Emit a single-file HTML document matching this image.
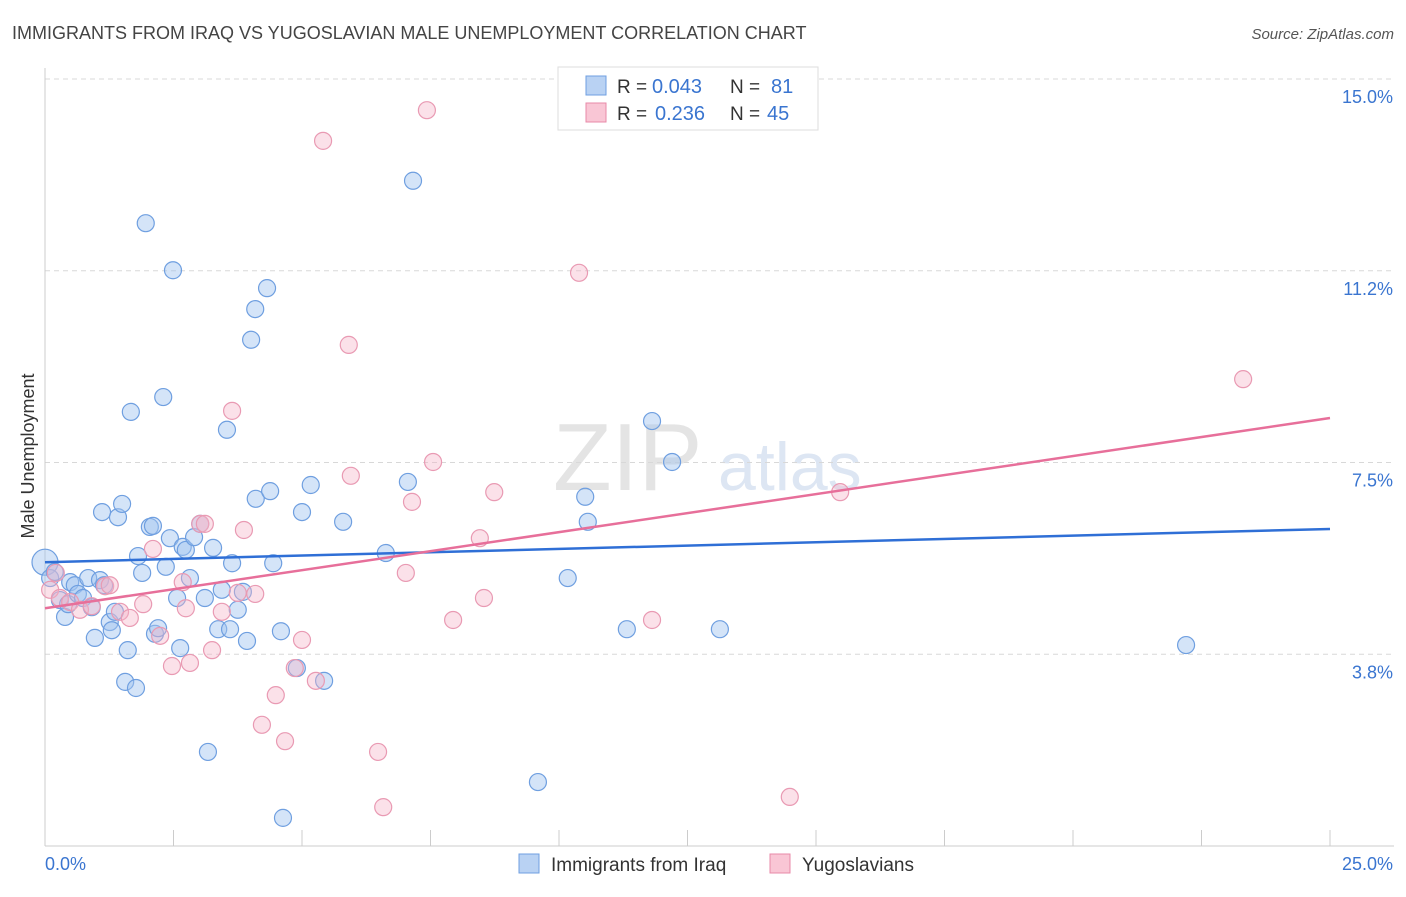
<!DOCTYPE html>
<html><head><meta charset="utf-8"><style>
body{margin:0;background:#fff;font-family:"Liberation Sans",sans-serif;}
svg text{font-family:"Liberation Sans",sans-serif;}
</style></head><body>
<svg width="1406" height="892" xmlns="http://www.w3.org/2000/svg">
<text x="12" y="39" font-size="18" fill="#444">IMMIGRANTS FROM IRAQ VS YUGOSLAVIAN MALE UNEMPLOYMENT CORRELATION CHART</text>
<text x="1394" y="39" font-size="15" fill="#555" text-anchor="end" font-style="italic">Source: ZipAtlas.com</text>
<text x="553" y="490" font-size="96" fill="#e4e4e4" font-family="Liberation Serif">ZIP</text>
<text x="718" y="490" font-size="68" fill="#dde6f3">atlas</text>
<g id="grid"></g>
<g id="axes"></g>
<g id="pts"></g>
<g id="lines"></g>
<text transform="translate(34,456) rotate(-90)" font-size="18" fill="#333" text-anchor="middle">Male Unemployment</text>
<text x="45" y="870" font-size="18" fill="#3a75d0">0.0%</text>
<text x="1393" y="870" font-size="18" fill="#3a75d0" text-anchor="end">25.0%</text>
<g>
<rect x="558" y="67" width="260" height="63" fill="#fff" stroke="#ddd"/>
<rect x="586" y="76" width="20" height="19" fill="#b9d2f3" stroke="#6f9fe0"/>
<rect x="586" y="103" width="20" height="19" fill="#f9c6d5" stroke="#e88aa8"/>
<text x="617" y="93" font-size="19" fill="#333">R =</text>
<text x="652" y="93" font-size="20" fill="#3a75d0">0.043</text>
<text x="730" y="93" font-size="19" fill="#333">N =</text>
<text x="771" y="93" font-size="20" fill="#3a75d0">81</text>
<text x="617" y="120" font-size="19" fill="#333">R =</text>
<text x="655" y="120" font-size="20" fill="#3a75d0">0.236</text>
<text x="730" y="120" font-size="19" fill="#333">N =</text>
<text x="767" y="120" font-size="20" fill="#3a75d0">45</text>
</g>
<g>
<rect x="519" y="854" width="20" height="19" fill="#b9d2f3" stroke="#6f9fe0"/>
<text x="551" y="871" font-size="19" fill="#333">Immigrants from Iraq</text>
<rect x="770" y="854" width="20" height="19" fill="#f9c6d5" stroke="#e88aa8"/>
<text x="802" y="871" font-size="19" fill="#333">Yugoslavians</text>
</g>
</svg>
<script>
const yTicks=[3.75,7.5,11.25,15];
const yTickLabels=["3.8%","7.5%","11.2%","15.0%"];
const xTicks=[2.5,5,7.5,10,12.5,15,17.5,20,22.5,25];
const iraqX=[0,.10,.19,.29,.39,.45,.49,.58,.64,.74,.84,.91,.97,1.07,1.11,1.15,1.26,1.30,1.36,1.42,1.50,1.61,1.56,1.67,1.77,1.81,1.89,1.96,2.04,2.10,2.14,2.20,2.30,2.35,2.43,2.49,2.57,2.63,2.68,2.74,2.82,2.90,3.02,3.11,3.17,3.27,3.37,3.44,3.54,3.60,3.64,3.75,3.85,3.93,4.01,4.09,4.10,4.32,4.38,4.44,4.59,4.63,4.90,5.00,5.17,5.43,5.80,6.63,7.06,7.16,9.59,10.17,10.51,10.56,11.32,11.81,12.20,13.13,22.20];
const iraqY=[5.55,5.24,5.36,4.81,4.48,4.73,5.16,5.10,4.93,4.85,5.24,4.67,4.07,5.20,6.53,5.10,4.38,4.22,4.58,6.43,6.69,3.83,3.21,8.49,3.09,5.67,5.34,12.18,6.24,6.26,4.15,4.26,8.78,5.46,6.02,11.26,4.85,3.87,5.85,5.79,5.24,6.04,6.30,4.85,1.84,5.83,4.24,5.01,8.14,4.24,5.53,4.62,4.97,4.01,9.90,10.50,6.79,10.91,6.94,5.53,4.20,0.55,3.48,6.53,7.06,3.23,6.34,5.73,7.12,13.01,1.25,5.24,6.83,6.34,4.24,8.31,7.51,4.24,3.93];
const yugoX=[.10,.21,.29,.49,.68,.91,1.17,1.26,1.46,1.65,1.91,2.10,2.24,2.47,2.68,2.74,2.82,3.02,3.11,3.25,3.44,3.64,3.75,3.87,4.09,4.22,4.49,4.67,4.86,5.00,5.27,5.41,5.91,5.95,6.48,6.58,7.02,7.14,7.43,7.55,7.94,8.54,8.46,8.74,10.39,11.81,14.49,15.47,23.31];
const yugoY=[5.01,5.34,4.85,4.77,4.62,4.69,5.08,5.10,4.58,4.46,4.73,5.81,4.11,3.52,5.16,4.65,3.58,6.30,6.30,3.83,4.58,8.51,4.95,6.18,4.93,2.37,2.95,2.05,3.48,4.03,3.23,13.79,9.80,7.24,1.84,0.76,5.34,6.73,14.39,7.51,4.42,4.85,6.02,6.92,11.21,4.42,0.96,6.92,9.13];
const iraqTrend=[5.55,6.20];
const yugoTrend=[4.65,8.37];
const NS='http://www.w3.org/2000/svg';
const X=v=>45+v/25*1285;
const Y=v=>846-v/15*767;
function mk(t,a,p){const e=document.createElementNS(NS,t);for(const k in a)e.setAttribute(k,a[k]);document.getElementById(p).appendChild(e);return e;}
yTicks.forEach((t,i)=>{
 const l=mk('line',{x1:45,x2:1394,y1:Y(t),y2:Y(t),stroke:'#d8d8d8','stroke-dasharray':'5,4'},'grid');
 
 
 const tx=mk('text',{x:1393,y:Y(t)+24,'font-size':18,fill:'#3a75d0','text-anchor':'end'},'grid');
 tx.textContent=yTickLabels[i];
 
 
});
let a=mk('line',{x1:45,x2:45,y1:68,y2:846,stroke:'#ccc'},'axes');


a=mk('line',{x1:45,x2:1394,y1:846,y2:846,stroke:'#ccc'},'axes');


xTicks.forEach(t=>{
 const l=mk('line',{x1:X(t),x2:X(t),y1:830,y2:846,stroke:'#ccc'},'axes');
 
 
});
iraqX.forEach((x,i)=>{
 const c=mk('circle',{cx:X(x),cy:Y(iraqY[i]),r:i===0?13:8.5,fill:'rgba(160,195,240,0.45)',stroke:'#6f9fe0','stroke-width':1.2},'pts');
 
 
});
yugoX.forEach((x,i)=>{
 const c=mk('circle',{cx:X(x),cy:Y(yugoY[i]),r:8.5,fill:'rgba(245,180,200,0.4)',stroke:'#e99ab3','stroke-width':1.2},'pts');
 
 
});
let t=mk('line',{x1:X(0),x2:X(25),y1:Y(iraqTrend[0]),y2:Y(iraqTrend[1]),stroke:'#2f6fd6','stroke-width':2.5},'lines');


t=mk('line',{x1:X(0),x2:X(25),y1:Y(yugoTrend[0]),y2:Y(yugoTrend[1]),stroke:'#e76f9a','stroke-width':2.5},'lines');


</script>
</body></html>
